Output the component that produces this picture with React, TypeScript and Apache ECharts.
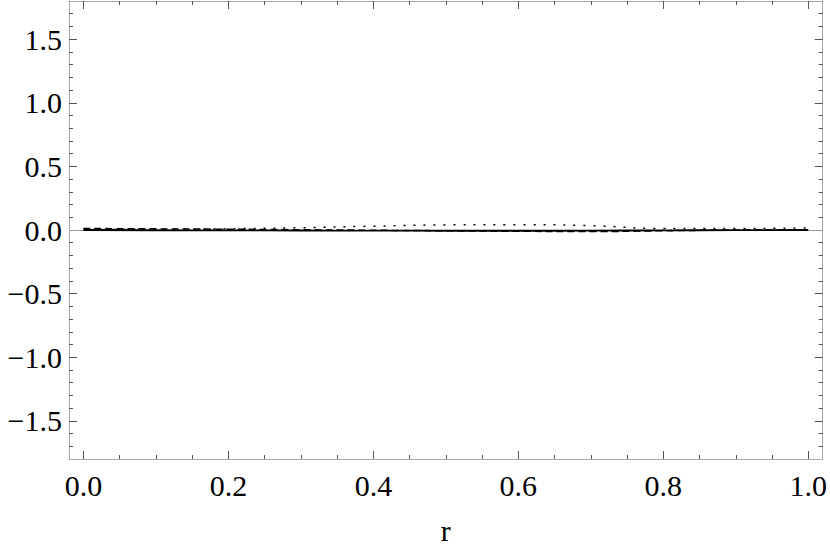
import React, { useEffect, useRef } from "react";
import * as echarts from "echarts";

const rValues = [0, 0.1, 0.2, 0.3, 0.4, 0.5, 0.6, 0.7, 0.8, 0.9, 1.0];
const solidValues = [0.0, -0.002, -0.003, -0.004, -0.005, -0.006, -0.006, -0.005, -0.003, -0.001, 0.0];
const dashedValues = [0.012, 0.009, 0.006, 0.002, -0.002, -0.006, -0.01, -0.012, -0.006, -0.001, 0.0];
const dottedValues = [0.004, 0.006, 0.01, 0.018, 0.03, 0.04, 0.042, 0.034, 0.012, 0.012, 0.016];

const xMajorTicks = [0, 0.2, 0.4, 0.6, 0.8, 1.0];
const xMinorTicks = [0.05, 0.1, 0.15, 0.25, 0.3, 0.35, 0.45, 0.5, 0.55, 0.65, 0.7, 0.75, 0.85, 0.9, 0.95];
const yMajorTicks = [-1.5, -1.0, -0.5, 0, 0.5, 1.0, 1.5];
const yMinorTicks = [-1.7, -1.6, -1.4, -1.3, -1.2, -1.1, -0.9, -0.8, -0.7, -0.6, -0.4, -0.3, -0.2, -0.1, 0.1, 0.2, 0.3, 0.4, 0.6, 0.7, 0.8, 0.9, 1.1, 1.2, 1.3, 1.4, 1.6, 1.7];

const X_MIN = -0.02;
const X_MAX = 1.02;
const Y_MIN = -1.8;
const Y_MAX = 1.8;

const FONT = "Times New Roman, Liberation Serif, serif";
const FRAME = "#a8a8a8";
const TICK = "#555555";

const fmt = (v: number) => (v < 0 ? "\u2212" : "") + Math.abs(v).toFixed(1);

function xAxisDef(position: string, ticks: number[], len: number, withLine: boolean, labels: boolean, extra: any = {}) {
  return {
    type: "value",
    gridIndex: 0,
    position,
    min: X_MIN,
    max: X_MAX,
    axisLine: { show: withLine, onZero: false, lineStyle: { color: FRAME, width: 1 } },
    axisTick: { show: true, inside: true, length: len, customValues: ticks, lineStyle: { color: TICK, width: 1 } },
    axisLabel: labels
      ? { show: true, customValues: ticks, formatter: fmt, color: "#000", fontFamily: FONT, fontSize: 30, margin: 11 }
      : { show: false },
    splitLine: { show: false },
    ...extra,
  };
}

function yAxisDef(position: string, ticks: number[], len: number, withLine: boolean, labels: boolean) {
  return {
    type: "value",
    gridIndex: 0,
    position,
    min: Y_MIN,
    max: Y_MAX,
    axisLine: { show: withLine, onZero: false, lineStyle: { color: FRAME, width: 1 } },
    axisTick: { show: true, inside: true, length: len, customValues: ticks, lineStyle: { color: TICK, width: 1 } },
    axisLabel: labels
      ? { show: true, customValues: ticks, formatter: fmt, color: "#000", fontFamily: FONT, fontSize: 30, margin: 7 }
      : { show: false },
    splitLine: { show: false },
  };
}

export default function App() {
  const ref = useRef<HTMLDivElement>(null);

  useEffect(() => {
    document.body.style.margin = "0";
    if (!ref.current) return;
    const chart = echarts.init(ref.current, null, { renderer: "svg" });
    const pair = (ys: number[]) => rValues.map((r, i) => [r, ys[i]]);
    chart.setOption({
      animation: false,
      backgroundColor: "#ffffff",
      textStyle: { fontFamily: FONT },
      grid: { left: 69, right: 7, top: 1, bottom: 84, containLabel: false },
      xAxis: [
        xAxisDef("bottom", xMajorTicks, 8, true, true, {
          name: "r",
          nameLocation: "middle",
          nameGap: 56,
          nameTextStyle: { color: "#000", fontFamily: FONT, fontSize: 30 },
        }),
        xAxisDef("bottom", xMinorTicks, 4, false, false),
        xAxisDef("top", xMajorTicks, 8, true, false),
        xAxisDef("top", xMinorTicks, 4, false, false),
      ],
      yAxis: [
        yAxisDef("left", yMajorTicks, 8, true, true),
        yAxisDef("left", yMinorTicks, 4, false, false),
        yAxisDef("right", yMajorTicks, 8, true, false),
        yAxisDef("right", yMinorTicks, 4, false, false),
      ],
      series: [
        {
          type: "line",
          xAxisIndex: 0,
          yAxisIndex: 0,
          data: [],
          z: 1,
          markLine: {
            silent: true,
            z: 1,
            symbol: ["none", "none"],
            label: { show: false },
            lineStyle: { color: "#9a9a9a", width: 1, type: "solid" },
            data: [{ yAxis: 0 }],
          },
        },
        {
          type: "line",
          xAxisIndex: 0,
          yAxisIndex: 0,
          data: pair(solidValues),
          showSymbol: false,
          smooth: true,
          lineStyle: { color: "#000", width: 1.8, type: "solid" },
          z: 3,
        },
        {
          type: "line",
          xAxisIndex: 0,
          yAxisIndex: 0,
          data: pair(dashedValues),
          showSymbol: false,
          smooth: true,
          lineStyle: { color: "#000", width: 1.5, type: [7, 4] },
          z: 4,
        },
        {
          type: "line",
          xAxisIndex: 0,
          yAxisIndex: 0,
          data: pair(dottedValues),
          showSymbol: false,
          smooth: true,
          lineStyle: { color: "#000", width: 1.5, type: [2, 8] },
          z: 5,
        },
      ],
    });
    return () => chart.dispose();
  }, []);

  return (
    <div
      ref={ref}
      style={{ position: "absolute", left: 0, top: 0, width: 830, height: 550, background: "#fff" }}
    />
  );
}
